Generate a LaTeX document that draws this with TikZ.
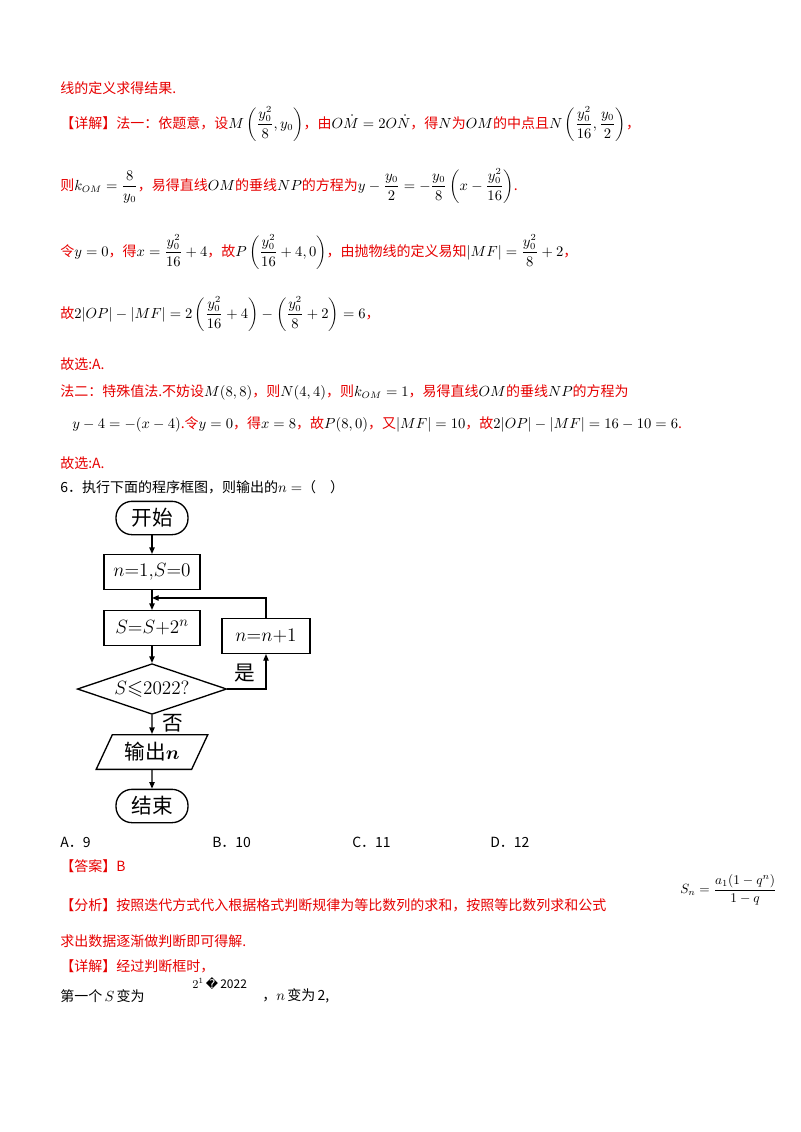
\documentclass[tikz,border=0pt]{standalone}
\usepackage{amsmath}
\usepackage{amssymb}
\usepackage{fontspec}
\setmainfont{Noto Sans CJK SC}
\newfontfamily\dejavu{DejaVu Sans}
\usetikzlibrary{shapes.geometric,arrows.meta}
\definecolor{rd}{RGB}{230,0,0}
\newcommand\mm[1]{{\color{black}$#1$}}
\tikzset{
 ln/.style={anchor=west,inner sep=0pt,font=\fontsize{10.5pt}{12pt}\selectfont},
 rln/.style={ln,text=rd},
 fc/.style={font=\fontsize{15.5pt}{17pt}\selectfont},
 term/.style={draw,fc,rounded corners=12pt,minimum width=54pt,minimum height=25pt,line width=1pt},
 proc/.style={draw,fc,minimum width=72pt,minimum height=26pt,inner xsep=1pt,line width=1pt},
 arr/.style={-{Triangle[length=5pt,width=4pt]},line width=1pt},
}
\begin{document}
\begin{tikzpicture}[x=0.75pt,y=-0.75pt]
\useasboundingbox (0,0) rectangle (800,1132);
\node[rln] (l1) at (60,88) {线的定义求得结果.};
\node[rln] (l2) at (60,124) {【详解】法一：依题意，设\mm{M\left(\dfrac{y_0^2}{8},y_0\right)}，由\mm{O\dot{M}=2O\dot{N}}，得\mm{N}为\mm{OM}的中点且\mm{N\left(\dfrac{y_0^2}{16},\dfrac{y_0}{2}\right)}，};
\node[rln] (l3) at (60,186) {则\mm{k_{OM}=\dfrac{8}{y_0}}，易得直线\mm{OM}的垂线\mm{NP}的方程为\mm{y-\dfrac{y_0}{2}=-\dfrac{y_0}{8}\left(x-\dfrac{y_0^2}{16}\right)}.};
\node[rln] (l4) at (60,252) {令\mm{y=0}，得\mm{x=\dfrac{y_0^2}{16}+4}，故\mm{P\left(\dfrac{y_0^2}{16}+4,0\right)}，由抛物线的定义易知\mm{|MF|=\dfrac{y_0^2}{8}+2}，};
\node[rln] (l5) at (60,314) {故\mm{2|OP|-|MF|=2\left(\dfrac{y_0^2}{16}+4\right)-\left(\dfrac{y_0^2}{8}+2\right)=6}，};
\node[rln] (l6) at (60,364) {故选:A.};
\node[rln] (l7) at (60,392) {法二：特殊值法.不妨设\mm{M(8,8)}，则\mm{N(4,4)}，则\mm{k_{OM}=1}，易得直线\mm{OM}的垂线\mm{NP}的方程为};
\node[rln] (l8) at (72,424) {\mm{y-4=-(x-4)}.令\mm{y=0}，得\mm{x=8}，故\mm{P(8,0)}，又\mm{|MF|=10}，故\mm{2|OP|-|MF|=16-10=6}.};
\node[rln] (l9) at (60,463) {故选:A.};
\node[ln] (q) at (60,487) {6．执行下面的程序框图，则输出的\mm{n=}（\quad ）};
% flowchart
\node[term] (st) at (152,518) {开始};
\node[proc] (init) at (152,572) {$n{=}1,\!S{=}0$};
\node[proc] (calc) at (152,628) {$S{=}S{+}2^n$};
\node[proc,minimum width=66pt] (inc) at (266,636) {$n{=}n{+}1$};
\node[draw,diamond,aspect=3,fc,line width=1pt,minimum width=112pt,minimum height=38pt,inner sep=0pt] (dec) at (152,689) {$S{\leqslant}2022?$};
\node[draw,trapezium,trapezium left angle=65,trapezium right angle=115,fc,line width=1pt,minimum width=80pt,minimum height=26pt] (out) at (152,752) {输出$\boldsymbol{n}$};
\node[term] (end) at (152,806) {结束};
\coordinate (j) at (152,598);
\draw[arr] (st) -- (init);
\draw[arr] (init) -- (calc);
\draw[arr] (calc) -- (dec);
\draw[arr] (dec) -- (out);
\draw[arr] (out) -- (end);
\draw[arr] (dec.east) -| (inc.south);
\draw[arr] (inc.north) |- (j);
\node[fc] (yes) at (245,673) {是};
\node[fc] (no) at (173,723) {否};
% answers
\node[ln] (a) at (60,842) {A．9};
\node[ln] (b) at (212,842) {B．10};
\node[ln] (c) at (352,842) {C．11};
\node[ln] (d) at (490,842) {D．12};
\node[rln] (ans) at (60,866) {【答案】B};
\node[rln] (an) at (60,905) {【分析】按照迭代方式代入根据格式判断规律为等比数列的求和，按照等比数列求和公式};
\node[anchor=west,inner sep=0pt] (sn) at (680,890) {$S_n=\dfrac{a_1(1-q^n)}{1-q}$};
\node[rln] (an2) at (60,941) {求出数据逐渐做判断即可得解.};
\node[rln] (de) at (60,966) {【详解】经过判断框时，};
\node[ln] (fi) at (60,996) {第一个\,$S$\,变为};
\node[ln,font=\small] (fv) at (192,984) {$2^1$\,{\dejavu �}\,2022};
\node[ln] (fi2) at (262,996) {，$n$\,变为\,2,};
\end{tikzpicture}
\end{document}
